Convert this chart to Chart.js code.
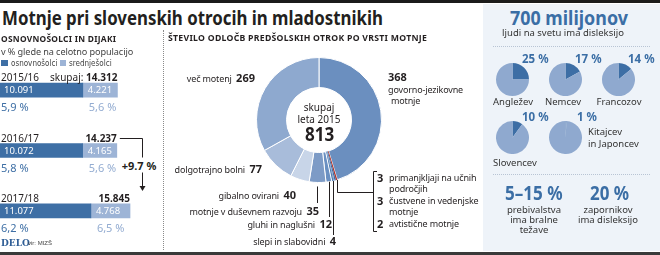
<!DOCTYPE html>
<html lang="sl">
<head>
<meta charset="utf-8">
<title>Motnje pri slovenskih otrocih in mladostnikih</title>
<script src="https://cdn.jsdelivr.net/npm/chart.js@4.4.1/dist/chart.umd.min.js"></script>
<style>
  html, body { margin: 0; padding: 0; background: #fff; }
  #okvir { position: relative; width: 660px; height: 255px; overflow: hidden;
           font-family: "Noto Sans", "Open Sans", sans-serif; color: #231f20; }
  #okvir canvas { position: absolute; }
  .t { position: absolute; white-space: nowrap; line-height: 1; }
  .naslov { font-size: 19px; font-weight: 700; }
  .nad { font-size: 9.5px; font-weight: 700; letter-spacing: .3px; }
  .pod { font-size: 9px; color: #444; letter-spacing: -.1px; }
  .leg { font-family: "Liberation Sans Narrow", "DejaVu Sans Condensed", sans-serif; font-size: 8px; color: #444; }
  .leto { font-size: 10px; }
  .vsota { font-size: 10px; }
  .vsota b { font-weight: 700; }
  .vr { font-size: 9.5px; color: #fff; }
  .pct1 { font-size: 11px; color: #3e6fa5; }
  .pct2 { font-size: 11px; color: #93acd1; }
  .lab { font-size: 9px; letter-spacing: -.15px; }
  .lab b { font-size: 11px; letter-spacing: 0; }
  .sred { font-size: 10px; }
  .velika { font-size: 20px; font-weight: 700; }
  .modra { color: #3b6ea5; font-weight: 700; }
  .drz { font-size: 9.5px; color: #333; }
  .opis { font-size: 9.5px; color: #333; }
  .delo { font-family: "DejaVu Serif", "Liberation Serif", serif; font-size: 9px; font-weight: 700; color: #2f5e96; }
  .vir { font-family: "Liberation Sans Narrow", sans-serif; font-size: 6px; color: #444; }
  .crta { position: absolute; }
</style>
</head>
<body>
<div id="okvir">
  <div class="crta" style="left:0;top:0;width:660px;height:3px;background:#1b1b1b"></div>
  <div class="crta" style="left:0;top:252px;width:660px;height:3px;background:#3a3a3a"></div>
  <div class="crta" style="left:483px;top:4px;width:177px;height:247px;background:#eef3f9"></div>
  <div class="crta" style="left:163px;top:30px;width:0;height:220px;border-left:1px dotted #8a8a8a"></div>
  <div class="crta" style="left:493px;top:46px;width:157px;height:0;border-top:1px dotted #b8c4d4"></div>
  <div class="crta" style="left:493px;top:174px;width:157px;height:0;border-top:1px dotted #b8c4d4"></div>
  <div class="crta" style="left:1px;top:60px;width:7px;height:6px;background:#3e6fa5"></div>
  <div class="crta" style="left:60px;top:60px;width:6px;height:6px;background:#9db4d6"></div>
  <canvas id="letaGraf" width="160" height="181" style="left:0;top:60px"></canvas>
  <canvas id="krog" width="310" height="210" style="left:165px;top:40px"></canvas>
</div>
<script>
// osnovnošolci in dijaki s posebnimi potrebami
const leta = ["2015/16", "2016/17", "2017/18"];
const osnovnosolci = [10091, 10072, 11077];
const srednjesolci = [4221, 4165, 4768];
const delezOsnovna = [5.9, 5.8, 6.2];
const delezSrednja = [5.6, 5.6, 6.5];

// odločbe predšolskih otrok, leto 2015 (v smeri urinega kazalca od vrha)
const motnje = ["govorno-jezikovne motnje", "primanjkljaji na učnih področjih", "čustvene in vedenjske motnje",
  "avtistične motnje", "slepi in slabovidni", "gluhi in naglušni", "motnje v duševnem razvoju",
  "gibalno ovirani", "dolgotrajno bolni", "več motenj"];
const odlocbe = [368, 3, 3, 2, 4, 12, 35, 40, 77, 269];
const barveMotenj = ["#6b8fbf", "#b5352c", "#3f6ea6", "#86a4cd", "#4f7cb2", "#6a90c2",
  "#7d9bc6", "#c8d5e8", "#a8bcda", "#8ea9cf"];

// delež ljudi z disleksijo
const jeziki = ["Angležev", "Nemcev", "Francozov", "Slovencev", "Kitajcev<br>in Japoncev"];
const disleksija = [25, 17, 14, 10, 1];

const okvir = document.getElementById("okvir");
const pika = n => String(n).replace(/\B(?=(\d{3})+(?!\d))/g, ".");
const vejica = n => n.toFixed(1).replace(".", ",") + " %";

/**
 * postavi besedilo; y je sredina vrstice
 */
function put(html, x, y, cls, poravnava) {
  const d = document.createElement("div");
  d.className = "t " + (cls || "");
  d.innerHTML = html;
  d.style.left = x + "px";
  d.style.top = y + "px";
  const tx = poravnava === "r" ? "-100%" : poravnava === "c" ? "-50%" : "0";
  d.style.transform = `translate(${tx}, -50%)`;
  okvir.appendChild(d);
  return d;
}

// stisne levo poravnano besedilo na dano širino
function fit(el, sirina) {
  el.style.transformOrigin = "0 50%";
  el.style.transform += ` scaleX(${sirina / el.offsetWidth})`;
  return el;
}

Chart.defaults.font.family = "'Noto Sans', sans-serif";

// --- levo: stolpci po letih ---
const puscica = {
  id: "puscica",
  afterDatasetsDraw(chart) {
    const ctx = chart.ctx;
    const b2 = chart.getDatasetMeta(1).data[1];
    const b3 = chart.getDatasetMeta(1).data[2];
    const xp = 142.5;
    const y1 = Math.round(b2.y - 13) + .5;
    const y2 = Math.round(b3.y - 20);
    ctx.save();
    ctx.strokeStyle = "#231f20";
    ctx.lineWidth = 1;
    ctx.beginPath();
    ctx.moveTo(b2.x + 3, y1);
    ctx.lineTo(xp, y1);
    ctx.lineTo(xp, y2 - 4);
    ctx.stroke();
    ctx.fillStyle = "#231f20";
    ctx.beginPath();
    ctx.moveTo(xp - 3, y2 - 5);
    ctx.lineTo(xp + 3, y2 - 5);
    ctx.lineTo(xp, y2);
    ctx.fill();
    ctx.restore();
  }
};

const letaGraf = new Chart(document.getElementById("letaGraf"), {
  type: "bar",
  data: {
    labels: leta,
    datasets: [
      { label: "osnovnošolci", data: osnovnosolci, backgroundColor: "#3e6fa5", barThickness: 14 },
      { label: "srednješolci", data: srednjesolci, backgroundColor: "#9db4d6", barThickness: 14 }
    ]
  },
  options: {
    indexAxis: "y",
    responsive: false,
    animation: false,
    layout: { padding: 0 },
    plugins: { legend: { display: false }, tooltip: { enabled: false } },
    scales: {
      x: { stacked: true, min: 0, max: 19500, display: false },
      y: { stacked: true, display: false }
    }
  },
  plugins: [puscica]
});

const top1 = 60;
const temni = letaGraf.getDatasetMeta(0).data;
const svetli = letaGraf.getDatasetMeta(1).data;
leta.forEach((leto, i) => {
  const y = top1 + temni[i].y;
  const vsota = osnovnosolci[i] + srednjesolci[i];
  put(leto, 1, y - 13, "leto");
  put((i === 0 ? "skupaj: " : "") + "<b>" + pika(vsota) + "</b>", svetli[i].x, y - 13, "vsota", "r");
  put(pika(osnovnosolci[i]), temni[i].base + 4, y, "vr");
  put(pika(srednjesolci[i]), svetli[i].base + 5, y, "vr");
  put(vejica(delezOsnovna[i]), 1, y + 16, "pct1");
  put(vejica(delezSrednja[i]), svetli[i].base + 6, y + 16, "pct2");
});
const rast = put("+9.7 %", 139, 165, "vsota", "c");
rast.style.fontWeight = "700";
rast.style.fontSize = "11px";
rast.style.background = "#fff";
rast.style.padding = "2px 0";

fit(put("Motnje pri slovenskih otrocih in mladostnikih", 2, 18, "naslov"), 381);
fit(put("OSNOVNOŠOLCI IN DIJAKI", 1, 39, "nad"), 115);
fit(put("v % glede na celotno populacijo", 1, 51, "pod"), 132);
put("osnovnošolci", 11, 63.5, "leg");
put("srednješolci", 69, 63.5, "leg");
put("DELO", 1, 243, "delo");
put("vir: MIZŠ", 28, 243, "vir");

// --- sredina: kolobar odločb ---
const crte = {
  id: "crte",
  afterDatasetsDraw(chart) {
    const ctx = chart.ctx;
    const loki = chart.getDatasetMeta(0).data;
    const tocka = (i, dr) => {
      const a = loki[i];
      const s = (a.startAngle + a.endAngle) / 2;
      return [a.x + Math.cos(s) * (a.outerRadius + dr), a.y + Math.sin(s) * (a.outerRadius + dr)];
    };
    ctx.save();
    ctx.strokeStyle = "#231f20";
    ctx.lineWidth = 1;
    [[6, 4, 163], [5, 0, 177], [4, 0, 195]].forEach(([i, dr, yk]) => {
      const [x, y] = tocka(i, dr);
      const xr = Math.round(x) + .5;
      ctx.beginPath();
      ctx.moveTo(xr, y);
      ctx.lineTo(xr, yk);
      ctx.stroke();
    });
    // rdeča rezina do oklepaja
    const [xr, yr] = tocka(1, 0);
    ctx.beginPath();
    ctx.moveTo(Math.round(xr) + .5, yr);
    ctx.lineTo(Math.round(xr) + .5, 152.5);
    ctx.lineTo(208.5, 152.5);
    ctx.stroke();
    ctx.beginPath();
    ctx.moveTo(212, 131.5);
    ctx.lineTo(208.5, 131.5);
    ctx.lineTo(208.5, 191.5);
    ctx.lineTo(212, 191.5);
    ctx.stroke();
    ctx.restore();
  }
};

new Chart(document.getElementById("krog"), {
  type: "doughnut",
  data: {
    labels: motnje,
    datasets: [{
      data: odlocbe,
      backgroundColor: barveMotenj,
      borderColor: "#fff",
      borderWidth: ctx => odlocbe[ctx.dataIndex] < 10 ? 0 : 1
    }]
  },
  options: {
    responsive: false,
    animation: false,
    cutout: "52%",
    layout: { padding: { left: 91, right: 93, top: 17, bottom: 67 } },
    plugins: { legend: { display: false }, tooltip: { enabled: false } }
  },
  plugins: [crte]
});

fit(put("ŠTEVILO ODLOČB PREDŠOLSKIH OTROK PO VRSTI MOTNJE", 168, 38, "nad"), 259);
put("skupaj", 319, 107, "sred", "c");
put("leta 2015", 319, 119, "sred", "c");
fit(put(String(odlocbe.reduce((a, b) => a + b, 0)), 305, 134, "velika"), 29);

put("več motenj&nbsp; <b>" + odlocbe[9] + "</b>", 255, 77, "lab", "r");
put("<b>" + odlocbe[0] + "</b>", 388, 76, "lab");
put("govorno-jezikovne", 388, 89, "lab");
put("motnje", 391, 100, "lab");
put("dolgotrajno bolni&nbsp; <b>" + odlocbe[8] + "</b>", 262, 168, "lab", "r");
put("gibalno ovirani&nbsp; <b>" + odlocbe[7] + "</b>", 296, 194, "lab", "r");
put("motnje v duševnem razvoju&nbsp; <b>" + odlocbe[6] + "</b>", 319, 210, "lab", "r");
put("gluhi in naglušni&nbsp; <b>" + odlocbe[5] + "</b>", 332, 223, "lab", "r");
put("slepi in slabovidni&nbsp; <b>" + odlocbe[4] + "</b>", 336, 240, "lab", "r");
put("<b>" + odlocbe[1] + "</b>", 377, 177, "lab");
put("primanjkljaji na učnih", 389, 177, "lab");
put("področjih", 389, 188, "lab");
put("<b>" + odlocbe[2] + "</b>", 377, 200, "lab");
put("čustvene in vedenjske", 389, 200, "lab");
put("motnje", 389, 211, "lab");
put("<b>" + odlocbe[3] + "</b>", 377, 223, "lab");
put("avtistične motnje", 389, 223, "lab");

// --- desno: disleksija ---
fit(put("700 milijonov", 510, 18, "modra velika"), 118);
put("ljudi na svetu ima disleksijo", 563, 33, "opis", "c");

const sredisca = [[512, 79], [565, 79], [618, 79], [512, 137], [565, 137]];
disleksija.forEach((p, i) => {
  const c = document.createElement("canvas");
  c.width = 33; c.height = 33;
  c.style.left = (sredisca[i][0] - 16.5) + "px";
  c.style.top = (sredisca[i][1] - 16.5) + "px";
  okvir.insertBefore(c, document.getElementById("letaGraf"));
  new Chart(c, {
    type: "pie",
    data: { labels: ["z disleksijo", "ostali"], datasets: [{ data: [p, 100 - p], backgroundColor: ["#3d6ea5", "#8fa9cf"], borderWidth: 0 }] },
    options: { responsive: false, animation: false, plugins: { legend: { display: false }, tooltip: { enabled: false } } }
  });
  put(p + " %", sredisca[i][0] + 10 + (p < 10 ? 2 : 0), sredisca[i][1] - 20, "modra").style.fontSize = "11.5px";
});
put(jeziki[0], 513, 102, "drz", "c");
put(jeziki[1], 563, 102, "drz", "c");
put(jeziki[2], 619, 102, "drz", "c");
put(jeziki[3], 493, 163, "drz");
put(jeziki[4], 588, 138, "drz").style.lineHeight = "12px";

fit(put("5–15 %", 505, 193, "modra velika"), 58);
put("prebivalstva", 534, 210, "opis", "c");
put("ima bralne", 534, 220, "opis", "c");
put("težave", 534, 230, "opis", "c");
fit(put("20 %", 590, 193, "modra velika"), 39);
put("zapornikov", 608, 210, "opis", "c");
put("ima disleksijo", 608, 220, "opis", "c");
</script>
</body>
</html>
